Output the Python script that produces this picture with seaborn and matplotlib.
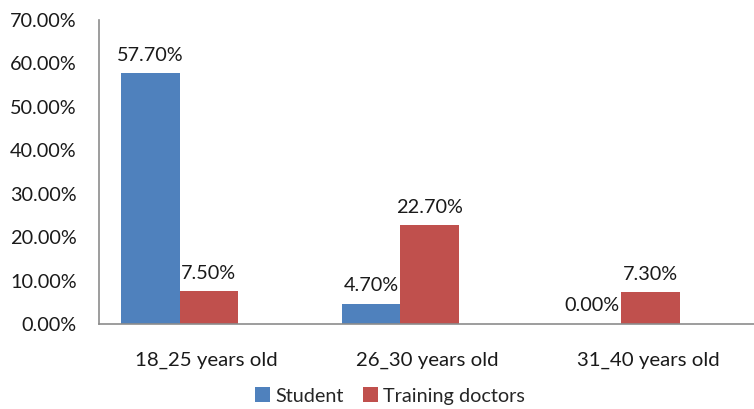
import matplotlib
matplotlib.use("Agg")
import matplotlib.pyplot as plt
import matplotlib.transforms as mtransforms
import seaborn as sns
import pandas as pd
from matplotlib.ticker import FuncFormatter, MultipleLocator

age_groups = ["18_25 years old", "26_30 years old", "31_40 years old"]
student = [57.70, 4.70, 0.00]
training_doctors = [7.50, 22.70, 7.30]
series_names = ["Student", "Training doctors"]
colors = ["#4F81BD", "#C0504D"]

df = pd.DataFrame({
    "age": age_groups * 2,
    "pct": student + training_doctors,
    "group": [series_names[0]] * 3 + [series_names[1]] * 3,
})

sns.set_style("white")
plt.rcParams["font.family"] = ["Lato", "DejaVu Sans"]
FS = 14.3

fig = plt.figure(figsize=(7.54, 4.09), dpi=100)
ax = fig.add_axes([99 / 754, 85 / 409, 1 - 99 / 754, 304 / 409])

sns.barplot(data=df, x="age", y="pct", hue="group", palette=colors,
            width=0.532, dodge=True, ax=ax, saturation=1, linewidth=0)

for cont in ax.containers:
    ax.bar_label(cont, labels=[f"{v:.2f}%" for v in cont.datavalues],
                 padding=7, fontsize=FS, color="#1a1a1a")

ax.set_ylim(0, 70)
ax.set_xlim(-0.365, 2.603)
ax.yaxis.set_major_locator(MultipleLocator(10))
ax.yaxis.set_major_formatter(FuncFormatter(lambda v, p: f"{v:.2f}%"))
ax.tick_params(axis="y", length=0, pad=16, labelsize=FS, labelcolor="#1a1a1a")
ax.tick_params(axis="x", length=0, pad=20, labelsize=FS + 0.4, labelcolor="#1a1a1a")
ax.set_xlabel("")
ax.set_ylabel("")

# category labels sit slightly right of the bar groups
shift = mtransforms.ScaledTranslation(0.27, 0, fig.dpi_scale_trans)
for lbl in ax.get_xticklabels():
    lbl.set_transform(lbl.get_transform() + shift)

for s in ["top", "right"]:
    ax.spines[s].set_visible(False)
for s in ["left", "bottom"]:
    ax.spines[s].set_color("#8c8c8c")
    ax.spines[s].set_linewidth(1.2)

handles, labels = ax.get_legend_handles_labels()
ax.legend(handles, labels, loc="center", bbox_to_anchor=(390 / 754, 13 / 409),
          bbox_transform=fig.transFigure, ncol=2, frameon=False,
          fontsize=FS, handlelength=0.75, handleheight=0.75,
          handletextpad=0.25, columnspacing=1.0)

fig.savefig("out.png", dpi=100)
